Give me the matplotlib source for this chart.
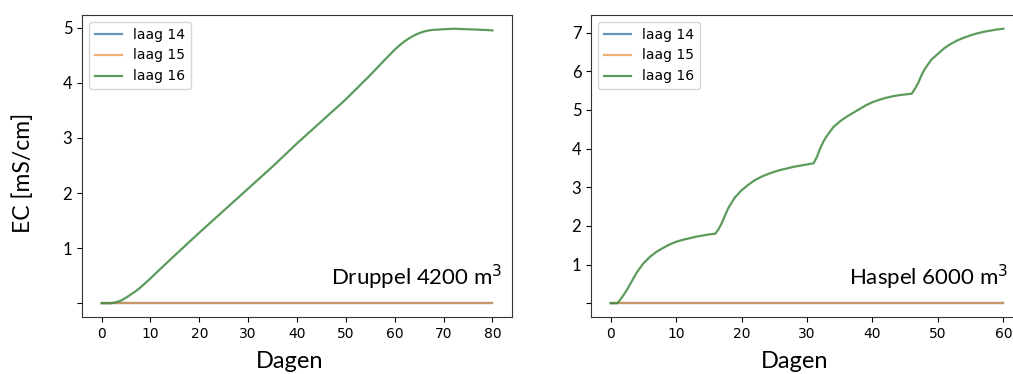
import matplotlib.pyplot as plt

# EC in laag 16 (laag 14 en 15 blijven op 0)
druppel_dagen = [0, 1, 2, 3, 4, 5, 6, 7, 8, 9, 10, 12, 15, 20, 25, 30, 35, 40, 45, 50, 55,
                 58, 60, 61, 62, 63, 64, 65, 66, 67, 68, 70, 72, 75, 78, 80]
druppel_ec = [0, 0, 0, 0.02, 0.05, 0.1, 0.16, 0.22, 0.29, 0.37, 0.45, 0.62, 0.87, 1.28,
              1.68, 2.08, 2.48, 2.9, 3.3, 3.7, 4.14, 4.42, 4.6, 4.68, 4.75, 4.81, 4.86,
              4.9, 4.93, 4.95, 4.96, 4.97, 4.98, 4.97, 4.96, 4.95]

haspel_dagen = [0, 1, 1.5, 2, 2.5, 3, 3.5, 4, 5, 6, 7, 8, 9, 10, 11, 12, 13, 14, 15, 16,
                16.5, 17, 17.5, 18, 19, 20, 21, 22, 23, 24, 25, 26, 27, 28, 29, 30, 31,
                31.5, 32, 32.5, 33, 34, 35, 36, 37, 38, 39, 40, 41, 42, 43, 44, 45, 46,
                46.5, 47, 47.5, 48, 49, 50, 51, 52, 53, 54, 55, 56, 57, 58, 59, 60]
haspel_ec = [0, 0, 0.1, 0.22, 0.35, 0.5, 0.65, 0.8, 1.03, 1.2, 1.33, 1.43, 1.52, 1.59,
             1.64, 1.68, 1.72, 1.75, 1.78, 1.8,
             1.92, 2.08, 2.28, 2.47, 2.74, 2.92, 3.06, 3.18, 3.27, 3.34, 3.4, 3.45, 3.49,
             3.53, 3.56, 3.59, 3.62,
             3.78, 4.0, 4.18, 4.32, 4.55, 4.7, 4.82, 4.92, 5.02, 5.12, 5.2, 5.26, 5.31,
             5.35, 5.38, 5.4, 5.42,
             5.55, 5.7, 5.9, 6.06, 6.3, 6.45, 6.6, 6.71, 6.8, 6.87, 6.93, 6.98, 7.02,
             7.05, 7.08, 7.1]

lagen = ["laag 14", "laag 15", "laag 16"]
kleuren = ["#3a7ea8", "#e8964a", "#3f8a3f"]
label_font = "Lato"

fig = plt.figure(figsize=(10.13, 3.74), dpi=100)
ax1 = fig.add_axes([82 / 1013, 57 / 374, 430 / 1013, 302 / 374])
ax2 = fig.add_axes([591 / 1013, 57 / 374, 432 / 1013, 302 / 374])


def panel(ax, dagen, ec, ymax):
    ax.plot(dagen, [0] * len(dagen), color=kleuren[0], lw=1.6, alpha=0.8, label=lagen[0])
    ax.plot(dagen, [0] * len(dagen), color=kleuren[1], lw=1.6, alpha=0.75, label=lagen[1])
    ax.plot(dagen, ec, color=kleuren[2], lw=1.6, alpha=0.85, label=lagen[2])
    ax.set_xticks(range(0, int(dagen[-1]) + 1, 10))
    ax.tick_params(axis="x", labelsize=10)
    ax.set_yticks(range(0, ymax + 1))
    ax.set_yticklabels([""] + [str(i) for i in range(1, ymax + 1)],
                       family=label_font, fontsize=12)
    for s in ax.spines.values():
        s.set_color("#333333")
    ax.legend(loc="upper left", fontsize=10)


panel(ax1, druppel_dagen, druppel_ec, 5)
panel(ax2, haspel_dagen, haspel_ec, 7)

fig.text(502 / 1013, 1 - 285 / 374, "Druppel 4200 m$^3$", ha="right", va="baseline",
         family=label_font, fontsize=16)
fig.text(1008 / 1013, 1 - 285 / 374, "Haspel 6000 m$^3$", ha="right", va="baseline",
         family=label_font, fontsize=16)
fig.text(23 / 1013, 1 - 173 / 374, "EC [mS/cm]", rotation=90, ha="center", va="center",
         family=label_font, fontsize=16.5)
fig.text(290 / 1013, 1 - 362 / 374, "Dagen", ha="center", va="center",
         family=label_font, fontsize=17)
fig.text(795 / 1013, 1 - 362 / 374, "Dagen", ha="center", va="center",
         family=label_font, fontsize=17)

plt.savefig("out.png", dpi=100)
plt.close(fig)
